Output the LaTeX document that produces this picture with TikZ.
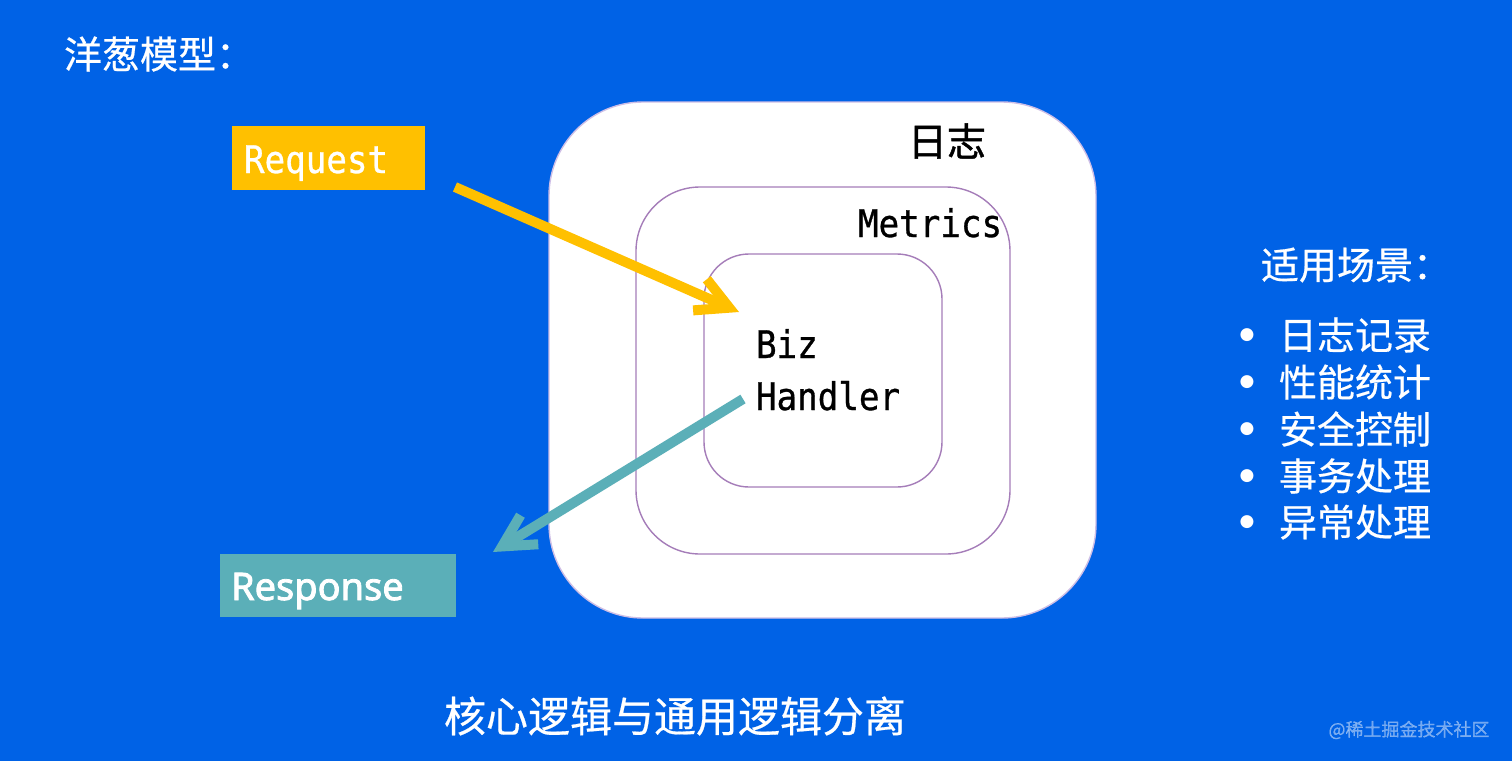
\documentclass[tikz,border=0pt]{standalone}
\usepackage{fontspec}
\usetikzlibrary{arrows.meta}
\newfontfamily\cjk[FakeBold=0.5]{Noto Sans CJK SC}
\newfontfamily\cjkdark[FakeBold=1.2]{Noto Sans CJK SC}
\newfontfamily\monof[FakeStretch=0.9,FakeBold=0.8]{DejaVu Sans Mono}
\newfontfamily\sansb[FakeBold=2.2]{Noto Sans}
\newfontfamily\dejavu{DejaVu Sans}
\definecolor{bg}{RGB}{0,98,230}
\definecolor{reqc}{RGB}{255,192,0}
\definecolor{resc}{RGB}{91,175,184}
\definecolor{layerline}{RGB}{165,125,185}
\definecolor{outerline}{RGB}{205,190,230}
\tikzset{
  layer/.style={draw=layerline, line width=0.7pt, fill=white, inner sep=0pt},
  txt/.style={inner sep=0pt, outer sep=0pt},
  cjktxt/.style={txt, text=white, font=\cjk\fontsize{19}{22}\selectfont},
  monotxt/.style={txt, font=\monof\fontsize{19}{22}\selectfont},
  flowarrow/.style={line width=5pt, -{Straight Barb[length=16pt,width=17pt]}},
}
\begin{document}
\begin{tikzpicture}[x=0.5pt,y=-0.5pt]
\useasboundingbox (0,0) rectangle (1512,761);
\fill[bg] (0,0) rectangle (1512,761);

% layers
\node[layer, draw=outerline, minimum width=273.5pt, minimum height=258pt, rounded corners=47pt] (outer) at (822.5,360) {};
\node[layer, minimum width=187pt, minimum height=183.5pt, rounded corners=32pt] (mid) at (823,370.5) {};
\node[layer, minimum width=119pt, minimum height=116.5pt, rounded corners=22.5pt] (inner) at (823,370.5) {};

\node[txt, font=\cjkdark\fontsize{19.5}{22}\selectfont, text=black] (log) at (947,141) {日志};
\node[monotxt, anchor=base west, text=black] (metrics) at (858,237) {Metrics};
\node[monotxt, anchor=base west, text=black] (biz) at (756,358) {Biz};
\node[monotxt, anchor=base west, text=black] (handler) at (756,410) {Handler};

% request / response boxes
\node[fill=reqc, minimum width=96.5pt, minimum height=32pt, inner sep=0pt] (req) at (328.5,158) {};
\node[monotxt, anchor=base west, text=white] (reqtxt) at (244,173) {Request};
\node[fill=resc, minimum width=118pt, minimum height=31.5pt, inner sep=0pt] (res) at (338,585.5) {};
\node[txt, anchor=base west, text=white, font=\sansb\fontsize{19}{22}\selectfont] (restxt) at (231,600) {Response};

% arrows
\coordinate (reqstart) at (455,187);
\coordinate (reqend) at (739,312);
\coordinate (resstart) at (743,399);
\coordinate (resend) at (493,552);
\draw[flowarrow, draw=reqc] (reqstart) -- (reqend);
\draw[flowarrow, draw=resc] (resstart) -- (resend);

% title
\node[cjktxt, anchor=west] (title) at (64,54) {洋葱模型：};

% right list
\node[cjktxt, anchor=west] (scene) at (1261,265) {适用场景：};
\foreach \y/\t [count=\i] in {335/日志记录,382/性能统计,429/安全控制,476/事务处理,522/异常处理}{
  \node[txt, text=white, font=\dejavu\fontsize{8.5}{10}\selectfont] (b\i) at (1247,\y) {●};
  \node[cjktxt, anchor=west] (item\i) at (1279,\y) {\t};
}

% bottom caption
\node[txt, text=white, font=\cjk\fontsize{21}{24}\selectfont] (caption) at (675,716) {核心逻辑与通用逻辑分离};

% watermark
\node[txt, text=white, opacity=0.45, font=\cjk\fontsize{9}{11}\selectfont] (wm) at (1409,730) {@稀土掘金技术社区};
\end{tikzpicture}
\end{document}
